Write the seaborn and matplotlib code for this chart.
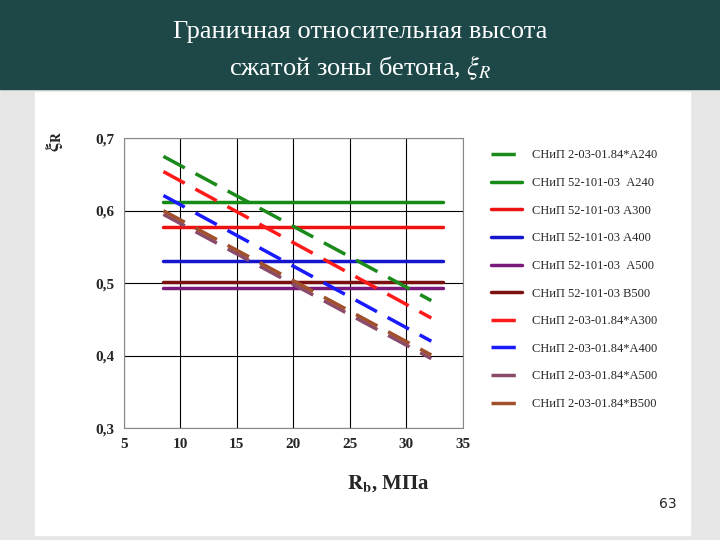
import matplotlib
matplotlib.use("Agg")
import matplotlib.pyplot as plt
import seaborn as sns
import pandas as pd
from matplotlib.patches import Rectangle

rb_dash = [8.5, 32.2]
rb_solid = [8.5, 33.2]
dash_names = ["СНиП 2-03-01.84*А240", "СНиП 2-03-01.84*А300", "СНиП 2-03-01.84*А400",
              "СНиП 2-03-01.84*А500", "СНиП 2-03-01.84*В500"]
dash_vals = [[0.675, 0.476], [0.654, 0.452], [0.621, 0.420], [0.595, 0.396], [0.600, 0.401]]
dash_colors = ["#1a8a1a", "#ff1a1a", "#1a1aff", "#8a4a6a", "#a0502a"]
solid_names = ["СНиП 52-101-03  А240", "СНиП 52-101-03 А300", "СНиП 52-101-03 А400",
               "СНиП 52-101-03  А500", "СНиП 52-101-03 В500"]
solid_vals = [0.612, 0.577, 0.531, 0.493, 0.502]
solid_colors = ["#158a15", "#ee1111", "#1515cc", "#7a1a7a", "#7a1010"]
legend_order = [("d", 0), ("s", 0), ("s", 1), ("s", 2), ("s", 3), ("s", 4),
                ("d", 1), ("d", 2), ("d", 3), ("d", 4)]

sns.set_style("white")
plt.rcParams['font.family'] = ['Liberation Serif', 'DejaVu Serif']
plt.rcParams['mathtext.fontset'] = 'stix'
fig = plt.figure(figsize=(7.2, 5.4), dpi=100)
fig.patch.set_facecolor("#e6e6e6")
fig.patches.append(Rectangle((0.048, 0.01), 0.91, 0.82, transform=fig.transFigure, color="white", zorder=-5))
fig.patches.append(Rectangle((0, 0.835), 1, 0.165, transform=fig.transFigure, color="#1e4848", zorder=-5))
fig.text(0.5, 0.94, "Граничная относительная высота", color="white", ha="center", va="center", fontsize=19)
fig.text(0.5, 0.875, r"сжатой зоны бетона, $\xi_R$", color="white", ha="center", va="center", fontsize=19)

ax = fig.add_axes([0.172, 0.207, 0.471, 0.537])
ax.set_zorder(5)
ax.set_facecolor("white")
handles = {}
for i, n in enumerate(solid_names):
    df = pd.DataFrame({"x": rb_solid, "y": [solid_vals[i]] * 2})
    sns.lineplot(data=df, x="x", y="y", ax=ax, color=solid_colors[i], lw=2.5, label=n)
    handles[("s", i)] = ax.lines[-1]
for i, n in enumerate(dash_names):
    df = pd.DataFrame({"x": rb_dash, "y": dash_vals[i]})
    sns.lineplot(data=df, x="x", y="y", ax=ax, color=dash_colors[i], lw=2.5, label=n)
    ax.lines[-1].set_dashes([7, 3.5])
    handles[("d", i)] = ax.lines[-1]
hs = [handles[k] for k in legend_order]
ax.legend(hs, [h.get_label() for h in hs], loc="upper left", bbox_to_anchor=(1.05, 1.0),
          frameon=False, fontsize=9, labelspacing=1.25, handlelength=2.5)
ax.set_xlim(5, 35)
ax.set_ylim(0.3, 0.7)
ax.set_xticks(range(5, 40, 5))
ax.set_yticks([0.3, 0.4, 0.5, 0.6, 0.7])
ax.set_yticklabels(["0,3", "0,4", "0,5", "0,6", "0,7"])
ax.tick_params(labelsize=11)
for t in ax.get_xticklabels() + ax.get_yticklabels():
    t.set_fontweight("bold")
ax.grid(True, color="black", lw=0.8)
for s in ax.spines.values():
    s.set_color("#888888")
ax.set_xlabel("")
ax.set_ylabel("")
fig.text(0.54, 0.095, r"$\mathbf{R_b}$, МПа", fontsize=15, fontweight="bold", ha="center")
fig.text(0.075, 0.73, r"$\mathbf{\xi_R}$", fontsize=14, rotation=90, ha="center")
fig.text(0.94, 0.06, "63", fontsize=10, family="DejaVu Sans", ha="right")
fig.savefig("out.png", dpi=100, facecolor=fig.get_facecolor())
